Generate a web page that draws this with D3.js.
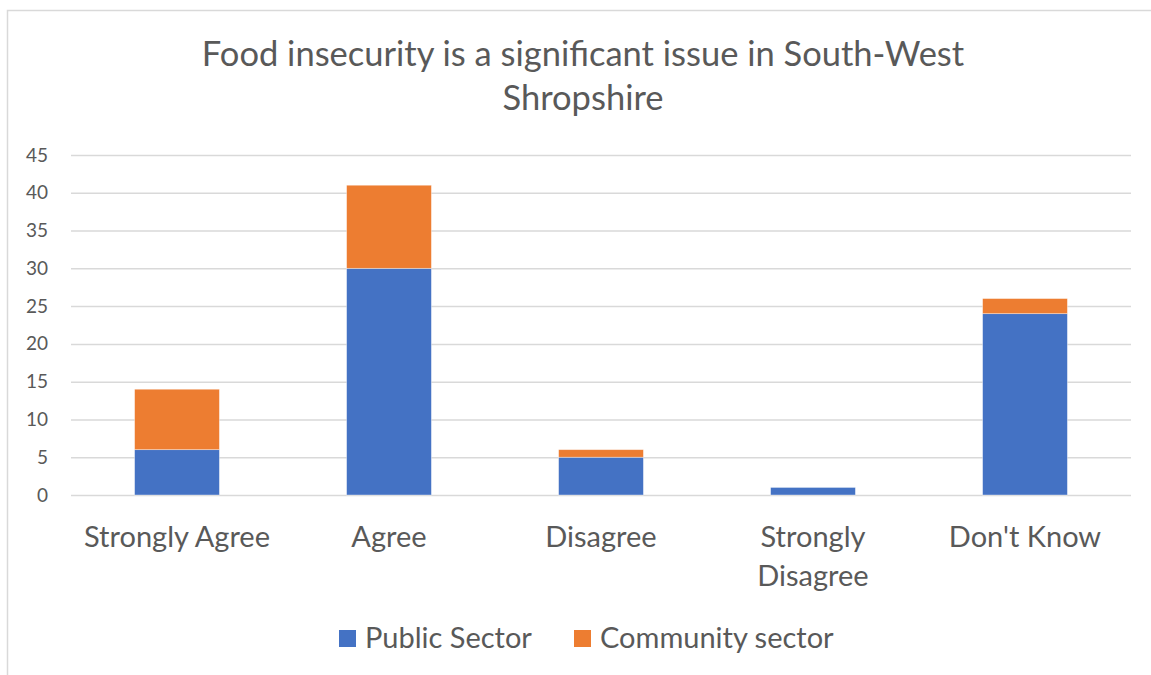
<!DOCTYPE html>
<html>
<head>
<meta charset="utf-8">
<script src="https://cdn.jsdelivr.net/npm/d3@7"></script>
<style>
  html, body { margin: 0; padding: 0; background: #fff; }
  svg { display: block; font-family: Lato, "Open Sans", sans-serif; }
</style>
</head>
<body>
<svg id="chart" width="1151" height="675"></svg>
<script>
// Survey responses by sector
const categories = [["Strongly Agree"], ["Agree"], ["Disagree"], ["Strongly", "Disagree"], ["Don't Know"]];
const publicSector = [6, 30, 5, 1, 24];
const communitySector = [8, 11, 1, 0, 2];
const seriesNames = ["Public Sector", "Community sector"];
const seriesColors = ["#4472C4", "#ED7D31"];
const yTicks = [0, 5, 10, 15, 20, 25, 30, 35, 40, 45];
const titleLines = ["Food insecurity is a significant issue in South-West", "Shropshire"];

const svg = d3.select("#chart");
const textColor = "#595959";

// Chart frame
svg.append("rect")
  .attr("x", 7.5).attr("y", 10.5)
  .attr("width", 1160).attr("height", 700)
  .attr("fill", "#fff").attr("stroke", "#D9D9D9").attr("stroke-width", 1.5);

const plot = { left: 71, right: 1131, top: 155, bottom: 495 };

const keys = categories.map(c => c.join(" "));
const x = d3.scaleBand().domain(keys)
  .range([plot.left, plot.right])
  .paddingInner(0.6).paddingOuter(0.3);
const y = d3.scaleLinear().domain([0, 45]).range([plot.bottom, plot.top]);

// Title
svg.append("text")
  .attr("x", 583).attr("y", 66)
  .attr("text-anchor", "middle")
  .attr("fill", textColor)
  .style("font-size", "34.5px")
  .selectAll("tspan").data(titleLines).join("tspan")
  .attr("x", 583).attr("dy", (d, i) => i === 0 ? 0 : 44)
  .text(d => d);

// Gridlines and y axis labels
const yAxis = d3.axisLeft(y).tickValues(yTicks)
  .tickSize(-(plot.right - plot.left)).tickPadding(23);
const gy = svg.append("g").attr("transform", `translate(${plot.left},0)`).call(yAxis);
gy.select(".domain").remove();
gy.selectAll(".tick line").attr("stroke", "#D9D9D9").attr("stroke-width", 1.5);
gy.selectAll(".tick text").attr("fill", textColor)
  .style("font-size", "19px").style("font-family", "Lato, sans-serif");

// Stacked bars
const rows = keys.map((k, i) => ({ key: k, pub: publicSector[i], com: communitySector[i] }));
const stack = d3.stack().keys(["pub", "com"])(rows);
svg.append("g").selectAll("g").data(stack).join("g")
  .attr("fill", (d, i) => seriesColors[i])
  .selectAll("rect").data(d => d.filter(s => s[1] > s[0])).join("rect")
  .attr("x", d => x(d.data.key))
  .attr("width", x.bandwidth())
  .attr("y", d => y(d[1]))
  .attr("height", d => y(d[0]) - y(d[1]))
  .attr("stroke", "#fff").attr("stroke-opacity", 0.5).attr("stroke-width", 0.75);

// Category labels
const xg = svg.append("g");
categories.forEach((lines, i) => {
  const t = xg.append("text")
    .attr("x", x(keys[i]) + x.bandwidth() / 2)
    .attr("y", 547)
    .attr("text-anchor", "middle")
    .attr("fill", textColor)
    .style("font-size", "29px");
  lines.forEach((ln, j) => {
    t.append("tspan").attr("x", x(keys[i]) + x.bandwidth() / 2)
      .attr("dy", j === 0 ? 0 : 39).text(ln);
  });
});

// Legend
const legend = svg.append("g");
const legendX = [339, 574];
seriesNames.forEach((name, i) => {
  const g = legend.append("g").attr("transform", `translate(${legendX[i]},630)`);
  g.append("rect").attr("x", 0).attr("y", 0).attr("width", 17).attr("height", 17)
    .attr("fill", seriesColors[i]);
  g.append("text").attr("x", 26).attr("y", 18)
    .attr("fill", textColor).style("font-size", "29px").text(name);
});
</script>
</body>
</html>
